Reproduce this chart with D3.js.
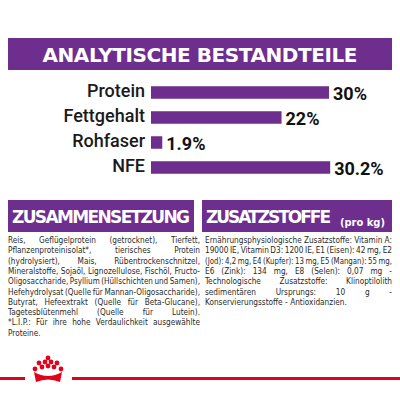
<!DOCTYPE html>
<html><head><meta charset="utf-8">
<script src="https://cdn.jsdelivr.net/npm/d3@7"></script>
<style>body{margin:0;background:#fff}text{font-family:"DejaVu Sans Condensed","Liberation Sans Narrow",Roboto,sans-serif}</style>
</head><body>
<script>
const nutrients = ["Protein", "Fettgehalt", "Rohfaser", "NFE"];
const values = [30, 22, 1.9, 30.2];
const valueLabels = ["30%", "22%", "1.9%", "30.2%"];
const compositionLines = [
  "Reis, Geflügelprotein (getrocknet), Tierfett,",
  "Pflanzenproteinisolat*, tierisches Protein",
  "(hydrolysiert), Mais, Rübentrockenschnitzel,",
  "Mineralstoffe, Sojaöl, Lignozellulose, Fischöl, Fructo-",
  "Oligosaccharide, Psyllium (Hüllschichten und Samen),",
  "Hefehydrolysat (Quelle für Mannan-Oligosaccharide),",
  "Butyrat, Hefeextrakt (Quelle für Beta-Glucane),",
  "Tagetesblütenmehl (Quelle für Lutein).",
  "*L.I.P.: Für ihre hohe Verdaulichkeit ausgewählte",
  "Proteine."
];
const additiveLines = [
  "Ernährungsphysiologische Zusatzstoffe: Vitamin A:",
  "19000 IE, Vitamin D3: 1200 IE, E1 (Eisen): 42 mg, E2",
  "(Jod): 4,2 mg, E4 (Kupfer): 13 mg, E5 (Mangan): 55 mg,",
  "E6 (Zink): 134 mg, E8 (Selen): 0,07 mg -",
  "Technologische Zusatzstoffe: Klinoptilolith",
  "sedimentären Ursprungs: 10 g -",
  "Konservierungsstoffe - Antioxidanzien."
];
const purple = "#6e2e8e";
const svg = d3.select("body").append("svg").attr("width", 400).attr("height", 400);

// header
svg.append("rect").attr("x", 8).attr("y", 38).attr("width", 384).attr("height", 32).attr("fill", purple);
svg.append("text").attr("x", 200).attr("y", 62).attr("text-anchor", "middle")
  .attr("fill", "#fff").style("font-size", "20px").style("font-weight", "bold")
  .style("font-family", "'DejaVu Sans'").attr("textLength", 315).text("ANALYTISCHE BESTANDTEILE");

const x = d3.scaleLinear().domain([0, 30]).range([151, 329]);
const y = d3.scaleBand().domain(nutrients).range([80, 180]).paddingInner(0.5).paddingOuter(0.25);
svg.selectAll(".bar").data(nutrients).join("rect")
  .attr("x", x(0)).attr("y", d => y(d)).attr("height", y.bandwidth())
  .attr("width", (d, i) => x(values[i]) - x(0)).attr("fill", purple);
svg.selectAll(".lab").data(nutrients).join("text")
  .attr("x", 145).attr("y", d => y(d) + y.bandwidth() - 2).attr("text-anchor", "end")
  .style("font-family", "Roboto").style("font-weight", 500)
  .style("font-size", "18px").attr("fill", "#1a1a1a").text(d => d);
svg.selectAll(".val").data(nutrients).join("text")
  .attr("x", (d, i) => x(values[i]) + 4).attr("y", d => y(d) + y.bandwidth() + 1)
  .style("font-family", "Roboto").style("font-size", "18px").style("font-weight", "bold").attr("fill", "#111")
  .text((d, i) => valueLabels[i]);

// section headers
svg.append("rect").attr("x", 8).attr("y", 200).attr("width", 186).attr("height", 32).attr("fill", purple);
svg.append("text").attr("x", 12).attr("y", 223).attr("fill", "#fff").style("font-size", "17px")
  .style("font-weight", "bold").style("font-family", "'DejaVu Sans'").attr("textLength", 178).text("ZUSAMMENSETZUNG");
svg.append("rect").attr("x", 202).attr("y", 200).attr("width", 190).attr("height", 32).attr("fill", purple);
svg.append("text").attr("x", 206).attr("y", 223).attr("fill", "#fff").style("font-size", "17px")
  .style("font-weight", "bold").style("font-family", "'DejaVu Sans'").attr("textLength", 125).text("ZUSATZSTOFFE");
svg.append("text").attr("x", 340).attr("y", 226).attr("fill", "#fff").style("font-size", "11px")
  .style("font-weight", "bold").text("(pro kg)");

function justify(lines, x0, width, y0) {
  lines.forEach((line, i) => {
    const words = line.split(" ");
    const yy = y0 + i * 10.3;
    const last = i === lines.length - 1;
    const nodes = words.map(w => svg.append("text").attr("y", yy).style("font-size", "8.2px")
      .attr("fill", "#2a2a2a").text(w));
    const widths = nodes.map(n => n.node().getComputedTextLength());
    const total = d3.sum(widths);
    let gap = (last || words.length < 2) ? 2.4 : (width - total) / (words.length - 1);
    let scale = 1;
    if (gap < 1.5) { gap = 1.5; scale = (width - gap * (words.length - 1)) / total; }
    let cx = x0;
    nodes.forEach((n, j) => {
      n.attr("x", cx);
      if (scale < 1) n.attr("textLength", widths[j] * scale).attr("lengthAdjust", "spacingAndGlyphs");
      cx += widths[j] * scale + gap;
    });
  });
}
justify(compositionLines, 8, 192, 243);
justify(additiveLines, 205, 187, 243);

// footer
svg.append("rect").attr("x", 0).attr("y", 377).attr("width", 25).attr("height", 3).attr("fill", "#e2001a");
svg.append("rect").attr("x", 72).attr("y", 377).attr("width", 328).attr("height", 3).attr("fill", "#e2001a");
const crown = svg.append("g").attr("fill", "#e2001a");
const dots = [[-13,-6],[-6,-8],[0,-9],[6,-8],[13,-6],[-9,-12],[-3,-13],[3,-13],[9,-12],[0,-17]];
dots.forEach(([dx, dy]) => crown.append("circle").attr("cx", 48 + dx).attr("cy", 375 + dy).attr("r", 2.4));
crown.append("path").attr("d", "M34,372 Q48,380 62,372 L60,382 Q48,377 36,382 Z");
</script>
</body></html>
